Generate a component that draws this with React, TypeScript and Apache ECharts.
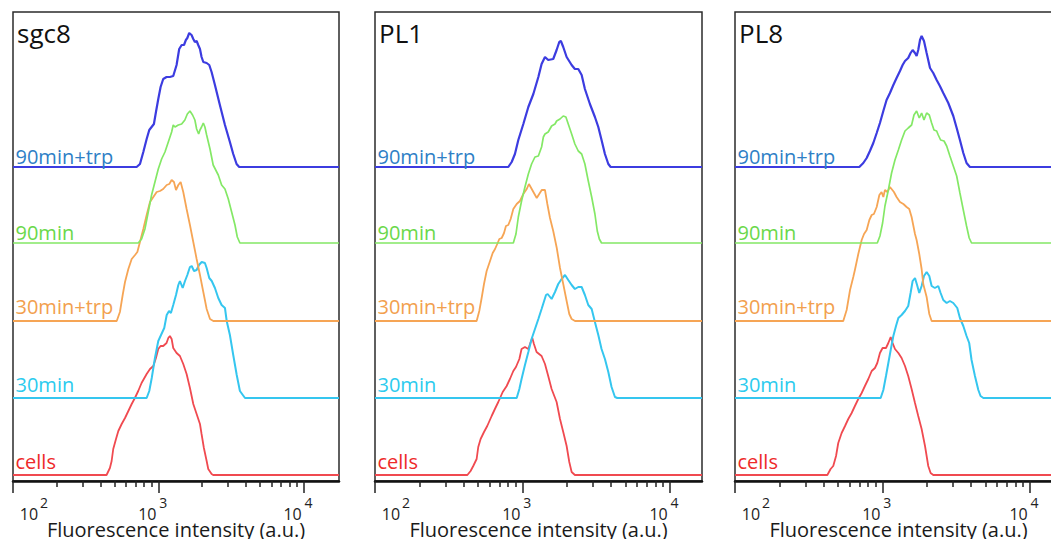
import React, { useEffect, useRef } from 'react';
import * as echarts from 'echarts';

const FONT = "'Open Sans', 'DejaVu Sans', sans-serif";

const PANEL_TITLES = ['sgc8', 'PL1', 'PL8'];
const SAMPLE_NAMES = ['cells', '30min', '30min+trp', '90min', '90min+trp'];
const LINE_COLORS = ['#f04a50', '#35c6ef', '#f6a555', '#84e866', '#3c3ce0'];
const LABEL_COLORS = ['#ee2a2a', '#2ccbee', '#f2a04e', '#6ad84a', '#2f7fc6'];
const LINE_WIDTHS = [1.8, 2, 1.8, 1.7, 2.2];
// vertical stacking offsets of each histogram (counts units)
const OFFSETS = [6, 83, 160, 238, 314];
const LABEL_GAPS = [3, 3, 4, 0, 0];

// x axis in log10(intensity)
const X_MIN = 2;
const X_MAX = [4.244, 4.22, 4.22];
const MAJOR_TICKS = [100, 1000, 10000];
const MINOR_TICKS = [200, 300, 400, 500, 600, 700, 800, 900, 2000, 3000, 4000, 5000, 6000, 7000, 8000, 9000];

const GRID_LEFT = [13, 375, 735];
const GRID_WIDTH = [326, 327, 327];

// ---- data: [log10 intensity, count] ----
const SGC8_CELLS = [[2.644,0],[2.667,7],[2.679,14],[2.690,26],[2.709,36],[2.725,44],[2.748,51],[2.771,57],[2.794,64],[2.817,71],[2.839,77],[2.862,84],[2.885,92],[2.920,101],[2.943,106],[2.966,109],[2.984,117],[3.000,126],[3.016,129],[3.034,129],[3.057,132],[3.069,137],[3.080,139],[3.092,136],[3.103,127],[3.126,122],[3.149,119],[3.172,111],[3.195,101],[3.218,87],[3.241,71],[3.264,61],[3.287,51],[3.298,41],[3.314,27],[3.333,14],[3.344,6],[3.367,1],[3.378,0]];
const SGC8_30MIN = [[2.920,0],[2.938,7],[2.955,20],[2.977,40],[3.000,57],[3.041,70],[3.058,83],[3.074,87],[3.087,85],[3.103,93],[3.122,103],[3.138,113],[3.149,117],[3.168,110],[3.184,117],[3.200,123],[3.218,131],[3.230,132],[3.246,127],[3.264,128],[3.280,133],[3.299,136],[3.321,135],[3.333,130],[3.351,120],[3.368,117],[3.390,110],[3.413,100],[3.436,93],[3.459,90],[3.471,77],[3.493,63],[3.516,43],[3.540,23],[3.562,7],[3.597,0]];
const SGC8_30TRP = [[2.714,0],[2.736,9],[2.755,26],[2.771,39],[2.794,52],[2.817,62],[2.840,66],[2.856,69],[2.874,79],[2.897,92],[2.920,106],[2.943,119],[2.966,124],[2.989,129],[3.012,130],[3.034,132],[3.058,136],[3.076,137],[3.092,141],[3.108,139],[3.122,131],[3.138,136],[3.154,139],[3.172,129],[3.195,112],[3.218,96],[3.241,79],[3.264,62],[3.287,46],[3.310,29],[3.333,12],[3.356,2],[3.379,0]];
const SGC8_90MIN = [[2.862,0],[2.885,4],[2.908,14],[2.931,31],[2.954,48],[2.977,61],[3.000,74],[3.023,84],[3.046,91],[3.069,101],[3.092,111],[3.103,118],[3.115,116],[3.138,118],[3.161,119],[3.183,123],[3.200,129],[3.218,132],[3.236,128],[3.252,123],[3.264,114],[3.278,109],[3.287,113],[3.298,116],[3.310,120],[3.321,116],[3.333,108],[3.356,94],[3.378,78],[3.413,68],[3.436,58],[3.459,54],[3.482,44],[3.505,31],[3.528,18],[3.544,6],[3.562,0]];
const SGC8_90TRP = [[2.851,0],[2.874,3],[2.897,15],[2.920,28],[2.938,37],[2.954,40],[2.970,43],[2.984,55],[3.000,68],[3.016,80],[3.034,88],[3.057,90],[3.080,90],[3.103,91],[3.126,102],[3.144,118],[3.161,122],[3.177,122],[3.190,127],[3.200,129],[3.213,134],[3.229,132],[3.241,128],[3.252,125],[3.264,126],[3.275,122],[3.287,118],[3.298,110],[3.310,105],[3.333,104],[3.351,102],[3.367,95],[3.390,82],[3.424,62],[3.459,42],[3.493,25],[3.516,13],[3.539,3],[3.557,0]];

const PL1_CELLS = [[2.627,0],[2.649,4],[2.667,9],[2.690,16],[2.701,28],[2.717,36],[2.740,43],[2.762,49],[2.792,59],[2.814,66],[2.837,73],[2.867,83],[2.894,89],[2.916,96],[2.939,104],[2.957,108],[2.980,116],[2.995,126],[3.018,128],[3.041,126],[3.057,133],[3.068,137],[3.079,131],[3.097,123],[3.131,119],[3.154,111],[3.176,99],[3.199,86],[3.233,73],[3.256,56],[3.278,43],[3.301,29],[3.319,13],[3.335,3],[3.357,0]];
const PL1_30MIN = [[2.962,0],[2.980,9],[2.995,19],[3.018,33],[3.041,46],[3.063,59],[3.086,69],[3.109,79],[3.131,89],[3.161,103],[3.172,104],[3.199,99],[3.222,106],[3.244,114],[3.267,119],[3.290,123],[3.312,118],[3.335,113],[3.357,109],[3.380,111],[3.403,111],[3.425,103],[3.448,93],[3.471,89],[3.493,76],[3.516,63],[3.538,49],[3.561,39],[3.584,26],[3.606,11],[3.629,1],[3.645,0]];
const PL1_30TRP = [[2.690,0],[2.708,10],[2.724,23],[2.740,37],[2.758,50],[2.781,60],[2.799,68],[2.815,72],[2.830,77],[2.844,82],[2.860,83],[2.876,88],[2.889,95],[2.905,96],[2.921,102],[2.939,112],[2.962,117],[2.984,120],[3.007,127],[3.030,132],[3.045,137],[3.064,132],[3.079,128],[3.098,123],[3.115,127],[3.132,131],[3.154,131],[3.170,117],[3.188,103],[3.210,90],[3.234,73],[3.256,53],[3.278,37],[3.301,20],[3.319,7],[3.335,2],[3.358,0]];
const PL1_90MIN = [[2.939,0],[2.957,9],[2.973,26],[2.995,42],[3.018,56],[3.041,69],[3.063,79],[3.086,86],[3.109,87],[3.131,96],[3.143,106],[3.154,109],[3.176,111],[3.199,117],[3.222,119],[3.233,122],[3.256,124],[3.278,127],[3.296,126],[3.312,119],[3.335,109],[3.357,99],[3.380,92],[3.403,89],[3.425,79],[3.448,62],[3.471,46],[3.493,29],[3.509,12],[3.523,4],[3.538,0]];
const PL1_90TRP = [[2.905,0],[2.928,5],[2.950,13],[2.973,27],[3.007,43],[3.041,60],[3.075,73],[3.109,90],[3.131,103],[3.154,110],[3.176,107],[3.210,108],[3.233,117],[3.251,125],[3.262,126],[3.278,120],[3.301,110],[3.335,102],[3.357,98],[3.380,98],[3.403,92],[3.425,78],[3.459,63],[3.493,50],[3.516,40],[3.538,27],[3.561,13],[3.584,3],[3.600,0]];

const PL8_CELLS = [[2.627,0],[2.649,6],[2.667,9],[2.686,19],[2.701,32],[2.724,42],[2.747,49],[2.769,56],[2.792,62],[2.814,69],[2.837,76],[2.860,82],[2.882,89],[2.905,96],[2.928,104],[2.950,107],[2.966,112],[2.984,122],[3.002,127],[3.025,127],[3.041,132],[3.057,138],[3.070,132],[3.086,126],[3.109,122],[3.131,117],[3.154,109],[3.176,99],[3.199,86],[3.222,72],[3.244,59],[3.267,46],[3.290,29],[3.312,9],[3.328,2],[3.346,0]];
const PL8_30MIN = [[2.989,0],[3.007,8],[3.025,22],[3.041,35],[3.057,48],[3.075,62],[3.093,72],[3.109,80],[3.131,83],[3.154,87],[3.176,92],[3.192,105],[3.206,117],[3.222,120],[3.238,112],[3.251,105],[3.267,112],[3.283,122],[3.301,126],[3.319,122],[3.335,112],[3.357,110],[3.380,112],[3.396,105],[3.414,98],[3.437,95],[3.459,97],[3.482,95],[3.509,90],[3.527,80],[3.550,72],[3.572,62],[3.590,55],[3.606,38],[3.629,22],[3.652,8],[3.667,2],[3.686,0]];
const PL8_30TRP = [[2.735,0],[2.758,11],[2.781,31],[2.803,44],[2.814,51],[2.837,67],[2.860,81],[2.876,87],[2.894,91],[2.912,101],[2.928,106],[2.943,107],[2.962,114],[2.980,126],[2.995,129],[3.007,124],[3.018,131],[3.034,129],[3.052,134],[3.063,132],[3.079,129],[3.097,124],[3.120,119],[3.143,117],[3.165,114],[3.183,112],[3.199,104],[3.222,87],[3.233,81],[3.251,67],[3.267,52],[3.278,37],[3.301,24],[3.319,7],[3.335,0]];
const PL8_90MIN = [[2.966,0],[2.984,7],[3.002,20],[3.018,37],[3.041,53],[3.063,70],[3.086,83],[3.109,93],[3.131,103],[3.154,112],[3.176,115],[3.199,118],[3.215,128],[3.233,132],[3.251,125],[3.267,130],[3.283,123],[3.301,130],[3.319,128],[3.335,120],[3.351,113],[3.369,112],[3.380,108],[3.396,103],[3.419,102],[3.437,97],[3.459,87],[3.482,77],[3.505,67],[3.527,50],[3.550,33],[3.572,17],[3.590,5],[3.606,0]];
const PL8_90TRP = [[2.844,0],[2.871,4],[2.894,9],[2.916,16],[2.939,24],[2.962,34],[2.984,44],[3.007,56],[3.029,67],[3.052,74],[3.075,82],[3.097,89],[3.120,96],[3.138,102],[3.154,106],[3.176,109],[3.192,114],[3.206,117],[3.222,114],[3.233,111],[3.244,117],[3.256,127],[3.267,131],[3.283,126],[3.301,114],[3.324,99],[3.346,94],[3.369,87],[3.391,81],[3.414,74],[3.448,64],[3.482,51],[3.505,39],[3.527,27],[3.550,14],[3.572,4],[3.595,0]];

const PANEL_DATA = [
  [SGC8_CELLS, SGC8_30MIN, SGC8_30TRP, SGC8_90MIN, SGC8_90TRP],
  [PL1_CELLS, PL1_30MIN, PL1_30TRP, PL1_90MIN, PL1_90TRP],
  [PL8_CELLS, PL8_30MIN, PL8_30TRP, PL8_90MIN, PL8_90TRP],
];

function buildOption() {
  const grid: any[] = [];
  const xAxis: any[] = [];
  const yAxis: any[] = [];
  const series: any[] = [];
  const title: any[] = [];
  const major = MAJOR_TICKS.map((v) => Math.log10(v));
  const minor = MINOR_TICKS.map((v) => Math.log10(v));
  const tickLine = { color: '#222', width: 1.5 };

  PANEL_TITLES.forEach((name, i) => {
    grid.push({
      left: GRID_LEFT[i], top: 12, width: GRID_WIDTH[i], height: 469,
      show: true, borderColor: '#2b2b2b', borderWidth: 1.5, backgroundColor: 'transparent',
      containLabel: false, outerBoundsMode: 'none',
    });
    title.push({
      text: name, left: GRID_LEFT[i] + 4, top: 20, padding: 0,
      textStyle: { fontFamily: FONT, fontSize: 26, fontWeight: 'normal', color: '#111' },
    });
    // major ticks + mantissa "10"
    xAxis.push({
      type: 'value', gridIndex: i, min: X_MIN, max: X_MAX[i], position: 'bottom',
      axisLine: { show: true, onZero: false, lineStyle: { color: '#111', width: 2.5 } },
      axisTick: { show: true, customValues: major, length: 12, lineStyle: tickLine },
      axisLabel: {
        show: true, customValues: major, margin: 27,
        formatter: (v: number) => (Math.round(v) === 2 ? '{lead| }{b|10}' : '{b|10}{tail| }'),
        rich: {
          b: { fontFamily: FONT, fontSize: 16, lineHeight: 12, color: '#222' },
          lead: { width: 32, lineHeight: 12 },
          tail: { width: 22, lineHeight: 12 },
        },
      },
      splitLine: { show: false },
      name: 'Fluorescence intensity (a.u.)', nameLocation: 'middle', nameGap: 40,
      nameMoveOverlap: false,
      nameTextStyle: { fontFamily: FONT, fontSize: 20, lineHeight: 16, color: '#1a1a1a' },
    });
    // minor ticks + exponent superscripts
    xAxis.push({
      type: 'value', gridIndex: i, min: X_MIN, max: X_MAX[i], position: 'bottom',
      axisLine: { show: false },
      axisTick: { show: true, customValues: minor, length: 6, lineStyle: tickLine },
      axisLabel: {
        show: true, customValues: major, margin: 15,
        formatter: (v: number) => {
          const e = Math.round(v);
          return e === 2 ? `{lead| }{s|${e}}` : `{pad| }{s|${e}}`;
        },
        rich: {
          s: { fontFamily: FONT, fontSize: 14, lineHeight: 12, color: '#222' },
          lead: { width: 62, lineHeight: 12 },
          pad: { width: 10, lineHeight: 12 },
        },
      },
      splitLine: { show: false },
    });
    yAxis.push({
      type: 'value', gridIndex: i, min: 0, max: 469, show: false,
      axisLine: { show: false }, axisTick: { show: false }, axisLabel: { show: false }, splitLine: { show: false },
    });

    PANEL_DATA[i].forEach((pts, k) => {
      const off = OFFSETS[k];
      series.push({
        type: 'line', name: SAMPLE_NAMES[k], xAxisIndex: 2 * i, yAxisIndex: i,
        data: [[X_MIN, off], ...pts.map((p) => [p[0], p[1] + off]), [X_MAX[i], off]],
        showSymbol: false, symbol: 'none', silent: true, clip: true,
        lineStyle: { color: LINE_COLORS[k], width: LINE_WIDTHS[k] },
        itemStyle: { color: LINE_COLORS[k] },
        markPoint: {
          symbol: 'rect', symbolSize: 1, silent: true,
          itemStyle: { color: 'rgba(0,0,0,0)' },
          data: [{
            coord: [X_MIN, off],
            label: {
              show: true, formatter: SAMPLE_NAMES[k], position: [3, -LABEL_GAPS[k]],
              align: 'left', verticalAlign: 'bottom',
              color: LABEL_COLORS[k], fontFamily: FONT, fontSize: 20,
            },
          }],
        },
      });
    });
  });

  return {
    animation: false,
    backgroundColor: '#ffffff',
    title, grid, xAxis, yAxis, series,
  };
}

export default function App() {
  const ref = useRef<HTMLDivElement>(null);
  useEffect(() => {
    if (!ref.current) return;
    const chart = echarts.init(ref.current, null, { renderer: 'svg' });
    chart.setOption(buildOption() as any);
    return () => chart.dispose();
  }, []);
  return (
    <div
      ref={ref}
      style={{ position: 'absolute', left: 0, top: 0, width: 1051, height: 539 }}
    />
  );
}
